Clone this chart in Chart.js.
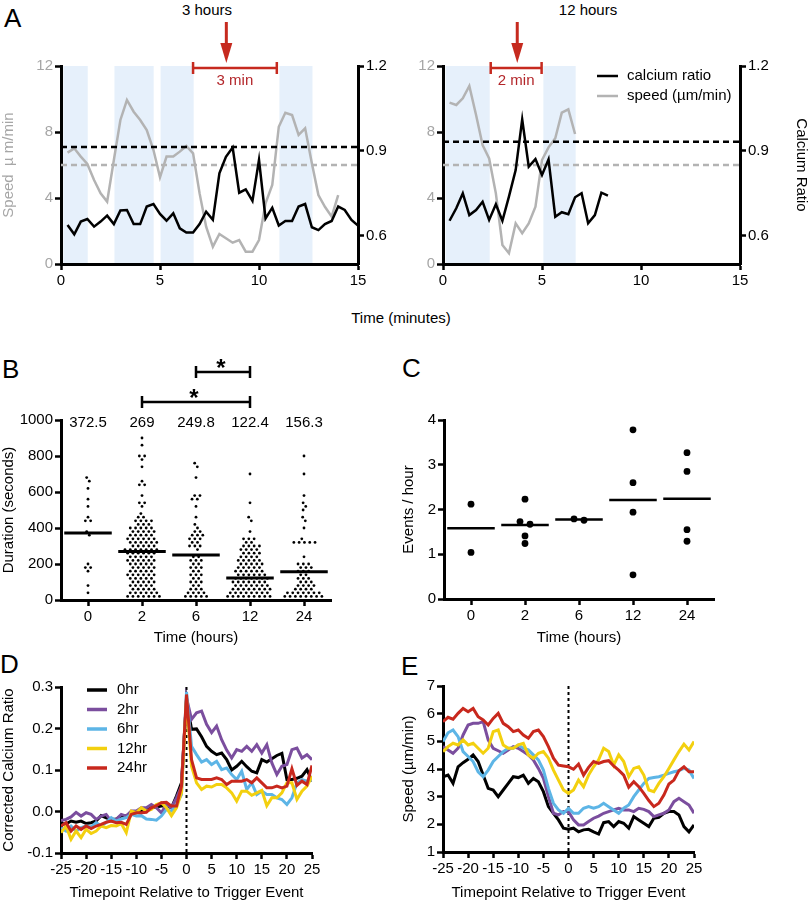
<!DOCTYPE html>
<html>
<head>
<meta charset="utf-8">
<script src="https://cdn.jsdelivr.net/npm/chart.js@4.4.1/dist/chart.umd.min.js"></script>
<style>
  body { margin: 0; background: #fff; width: 810px; height: 902px; position: relative; overflow: hidden;
         font-family: 'Liberation Sans', Arial, sans-serif; }
  canvas { position: absolute; }
  .txt { position: absolute; line-height: 1; white-space: nowrap; color: #000; font-size: 15px; }
  .mid { transform: translateX(-50%); }
  .letter { font-size: 26px; }
</style>
</head>
<body>
<div class="txt letter" style="left:4px;top:5px">A</div>
<div class="txt letter" style="left:2px;top:356px">B</div>
<div class="txt letter" style="left:402px;top:355px">C</div>
<div class="txt letter" style="left:0px;top:651px">D</div>
<div class="txt letter" style="left:401px;top:653px">E</div>
<div class="txt mid" style="left:207px;top:2px">3 hours</div>
<div class="txt mid" style="left:588px;top:2px">12 hours</div>
<div class="txt mid" style="left:401px;top:310px">Time (minutes)</div>

<script>
// ---------- Panel A: single-cell traces ----------
const timeMin = [0.33, 0.67, 1.00, 1.33, 1.67, 2.00, 2.33, 2.67, 3.00, 3.33, 3.67, 4.00, 4.33, 4.67, 5.00,
  5.33, 5.67, 6.00, 6.33, 6.67, 7.00, 7.33, 7.67, 8.00, 8.33, 8.67, 9.00, 9.33, 9.67, 10.00,
  10.33, 10.67, 11.00, 11.33, 11.67, 12.00, 12.33, 12.67, 13.00, 13.33, 13.67, 14.00, 14.33, 14.67, 15.00];
const ca3h = [0.638, 0.605, 0.650, 0.659, 0.632, 0.650, 0.671, 0.641, 0.689, 0.691, 0.641, 0.641, 0.703, 0.712, 0.677,
  0.653, 0.679, 0.626, 0.611, 0.611, 0.641, 0.685, 0.656, 0.821, 0.879, 0.912, 0.752, 0.764, 0.723, 0.868,
  0.661, 0.699, 0.636, 0.652, 0.652, 0.703, 0.712, 0.630, 0.620, 0.641, 0.652, 0.703, 0.691, 0.656, 0.636];
const speed3h = [6.75, 7.01, 6.51, 6.06, 5.09, 4.28, 3.78, 6.30, 8.73, 9.94, 9.23, 8.73, 8.12, 6.91, 5.25,
  6.51, 6.51, 6.81, 7.15, 6.71, 4.28, 2.26, 1.05, 1.82, 1.56, 1.29, 1.45, 0.75, 0.75, 1.45,
  3.68, 4.79, 8.32, 9.17, 9.03, 7.82, 8.22, 6.10, 4.18, 3.47, 2.87, 4.18];
const ca12h = [0.653, 0.697, 0.750, 0.673, 0.691, 0.720, 0.656, 0.711, 0.653, 0.738, 0.832, 1.011, 0.844,
  0.871, 0.815, 0.870, 0.667, 0.683, 0.676, 0.736, 0.750, 0.644, 0.673, 0.752, 0.742];
const speed12h = [9.78, 9.64, 10.04, 10.79, 9.03, 7.21, 6.40, 4.28, 1.15, 0.65, 2.46, 1.86, 2.46, 3.47, 6.30,
  7.07, 7.62, 9.17, 9.37, 7.88];
const caThreshold = [0.914, 0.932];
const speedThreshold = [6.0, 6.0];
const restPeriods3h = [[0.12, 1.35], [2.7, 4.68], [5.03, 6.7], [11.03, 12.7]];
const restPeriods12h = [[0.13, 2.36], [5.07, 6.7]];
const triggerMin = [8.35, 3.75];
const windowMin = [[6.67, 10.9], [2.41, 4.98]];
const windowLabels = ['3 min', '2 min'];
const legendA = ['calcium ratio', 'speed (\u00b5m/min)'];

// ---------- Panel B: event durations, [seconds, count] ----------
const hourLabels = ['0', '2', '6', '12', '24'];
const dur0h = [[680,1],[660,1],[620,1],[560,1],[520,1],[460,1],[440,2],[380,1],[360,1],[200,1],[180,2],[160,1],[80,1],[40,1]];
const dur2h = [[900,1],[860,1],[800,2],[780,1],[740,1],[660,1],[640,2],[580,1],[540,2],[520,1],[480,1],[460,2],
  [440,4],[420,3],[400,5],[380,5],[360,5],[340,6],[320,6],[300,5],[280,7],[260,6],[240,5],[220,6],[200,5],
  [180,5],[160,5],[140,6],[120,5],[100,5],[80,5],[60,5],[40,6],[20,7]];
const dur6h = [[760,1],[740,1],[680,1],[580,2],[560,2],[520,1],[460,1],[420,1],[400,1],[380,2],[360,3],[340,3],
  [320,2],[300,3],[280,1],[240,2],[220,3],[200,2],[180,3],[160,2],[140,3],[120,2],[100,3],[80,2],[60,3],[40,4],[20,5]];
const dur12h = [[700,1],[540,1],[460,1],[440,1],[380,1],[340,3],[320,2],[300,4],[280,4],[260,4],[240,4],[220,5],
  [200,5],[180,5],[160,6],[140,6],[120,7],[100,7],[80,7],[60,8],[40,8],[20,9]];
const dur24h = [[800,1],[700,1],[580,1],[540,1],[520,1],[500,1],[460,1],[440,1],[400,1],[340,1],[320,5],[240,1],
  [200,3],[180,3],[160,3],[140,2],[120,3],[100,3],[80,4],[60,4],[40,7],[20,8]];
const meanDuration = [372.5, 269, 249.8, 122.4, 156.3];
const sigPairs = [[1, 3], [2, 3]];

// ---------- Panel C: events per hour ----------
const events0h = [2.12, 1.04];
const events2h = [2.23, 1.73, 1.67, 1.41, 1.24];
const events6h = [1.79, 1.76];
const events12h = [3.78, 2.60, 1.94, 0.54];
const events24h = [3.27, 2.85, 1.55, 1.29];

// ---------- Panels D, E: averages around trigger ----------
const relTime = [-25,-24,-23,-22,-21,-20,-19,-18,-17,-16,-15,-14,-13,-12,-11,-10,-9,-8,-7,-6,-5,-4,-3,-2,-1,
  0,1,2,3,4,5,6,7,8,9,10,11,12,13,14,15,16,17,18,19,20,21,22,23,24,25];
const groupLabels = ['0hr', '2hr', '6hr', '12hr', '24hr'];
const groupColors = ['#000000', '#7b4e9e', '#5db5e6', '#f3d00f', '#c8281d'];
const ca0hr = [-0.029,-0.030,-0.023,-0.026,-0.023,-0.029,-0.027,-0.023,-0.010,-0.015,-0.019,-0.018,-0.011,-0.010,-0.005,
  -0.003,0.001,0.003,0.009,0.011,0.013,0.014,0.009,0.037,0.069, 0.270,
  0.198,0.199,0.180,0.157,0.145,0.137,0.141,0.125,0.100,0.109,0.121,0.108,0.097,0.093,0.125,0.119,0.127,0.135,0.140,
  0.077,0.077,0.080,0.085,0.101,0.073];
const ca2hr = [-0.022,-0.019,-0.013,-0.002,-0.011,-0.003,-0.007,-0.019,-0.011,-0.007,-0.023,-0.019,-0.007,-0.011,0.001,
  0.001,0.009,0.009,0.017,0.009,-0.003,0.017,0.009,0.033,0.061, 0.274,
  0.222,0.238,0.242,0.210,0.190,0.206,0.173,0.148,0.129,0.149,0.145,0.157,0.145,0.161,0.141,0.161,0.117,0.089,0.109,
  0.113,0.149,0.153,0.129,0.137,0.125];
const ca6hr = [-0.039,-0.047,-0.035,-0.047,-0.039,-0.035,-0.037,-0.027,-0.035,-0.027,-0.015,-0.023,-0.018,-0.015,-0.007,
  -0.011,-0.010,-0.018,-0.019,-0.021,-0.011,0.005,0.001,0.017,0.041, 0.288,
  0.157,0.137,0.119,0.125,0.113,0.121,0.101,0.105,0.089,0.077,0.097,0.053,0.069,0.041,0.049,0.041,0.041,0.033,0.029,
  0.017,0.033,0.069,0.077,0.073,0.077];
const ca12hr = [-0.051,-0.035,-0.067,-0.047,-0.063,-0.043,-0.053,-0.047,-0.035,-0.039,-0.034,-0.035,-0.029,-0.051,0.001,
  -0.003,0.009,0.001,0.005,0.017,0.021,0.009,-0.010,0.009,0.045, 0.270,
  0.109,0.069,0.053,0.061,0.059,0.065,0.065,0.057,0.045,0.025,0.049,0.049,0.039,0.045,0.051,0.014,0.033,0.033,0.045,
  0.069,0.069,0.029,0.049,0.061,0.085];
const ca24hr = [-0.035,-0.027,-0.047,-0.035,-0.043,-0.035,-0.041,-0.035,-0.031,-0.026,-0.023,-0.027,-0.026,-0.031,-0.007,
  -0.003,-0.003,-0.002,0.009,0.014,0.021,0.022,0.013,0.013,0.061, 0.282,
  0.125,0.081,0.077,0.077,0.077,0.081,0.077,0.065,0.073,0.073,0.073,0.077,0.069,0.081,0.069,0.057,0.057,0.061,0.057,
  0.061,0.103,0.063,0.073,0.065,0.111];
const sp0hr = [3.72,3.78,3.48,4.08,4.23,4.35,4.51,4.27,3.78,3.30,3.24,3.00,3.24,3.48,3.72,3.69,3.78,3.48,3.66,3.54,
  3.18,2.64,2.40,2.16,1.86, 1.82,
  1.86,1.73,1.80,1.82,1.73,1.65,2.06,2.10,1.92,2.10,2.04,1.86,2.28,2.16,2.04,1.92,2.22,2.25,2.40,2.46,2.46,2.34,1.92,1.73,1.98];
const sp2hr = [4.81,4.69,4.57,4.75,5.23,5.59,5.65,5.65,5.71,5.05,4.75,4.66,4.57,4.69,4.81,4.75,4.63,4.51,4.33,4.02,
  3.66,3.00,2.40,2.34,2.46, 2.46,
  2.16,1.98,1.98,2.10,2.22,2.30,2.40,2.46,2.52,2.58,2.52,2.52,2.46,2.58,2.54,2.46,2.28,2.34,2.40,2.52,2.82,2.94,2.82,2.70,2.40];
const sp6hr = [4.99,5.31,5.41,5.17,4.63,4.45,4.27,3.90,3.72,3.96,4.27,4.45,4.63,4.75,4.75,4.87,4.75,4.69,4.51,4.33,
  3.96,3.30,2.76,2.52,2.40, 2.58,
  2.40,2.40,2.58,2.64,2.58,2.64,2.76,2.64,2.52,2.40,2.58,2.70,3.00,3.24,3.48,3.66,3.69,3.72,3.78,3.84,3.90,3.94,4.02,3.96,3.66];
const sp12hr = [4.63,4.81,4.93,4.87,5.05,4.87,4.93,4.75,4.57,4.75,5.35,5.41,4.87,4.75,4.75,4.87,4.93,4.51,4.39,4.57,
  4.63,4.39,3.96,3.60,3.24, 3.12,
  3.24,3.60,3.36,3.78,4.08,4.33,4.75,4.63,4.14,4.51,4.27,3.72,4.02,4.08,3.78,3.24,3.18,3.48,3.72,4.02,4.33,4.63,4.90,4.69,4.99];
const sp24hr = [5.71,5.87,5.80,6.01,6.19,6.07,6.19,5.89,5.77,5.59,5.83,6.01,5.65,5.53,5.35,5.41,5.23,5.11,5.35,5.41,
  5.17,4.81,4.39,4.14,4.11, 4.08,
  3.99,4.18,3.78,4.06,4.27,4.20,4.27,4.30,4.11,3.96,3.78,3.34,3.54,3.36,3.12,2.86,2.64,2.76,3.06,3.46,3.60,3.94,4.08,3.90,3.90];

// ---------------------------------------------------------------
const FONT = "'Liberation Sans', Arial, sans-serif";
Chart.defaults.font.family = FONT;
Chart.defaults.font.size = 15;
Chart.defaults.color = '#000';
const GRAY = '#b3b3b3';
const RED = '#c62a1f';

function linScale(pos, size, o) {
  const horiz = pos === 'bottom';
  const cfg = {
    type: 'linear', position: pos, min: o.min, max: o.max,
    border: { display: true, color: '#000', width: 3 },
    grid: { display: true, drawOnChartArea: false, drawTicks: true, tickLength: 6, tickColor: '#000', tickWidth: 2.5 },
    ticks: { color: o.tickColor || '#000', font: { size: 15 }, padding: 2, autoSkip: false, maxRotation: 0,
      callback: o.format || (v => String(v)) },
    title: o.title
      ? { display: true, text: o.title, color: o.titleColor || '#000', font: { size: 15 }, padding: 0 }
      : { display: false },
    afterFit: s => { if (horiz) s.height = size; else s.width = size; }
  };
  if (o.step) cfg.ticks.stepSize = o.step;
  if (o.tickValues) cfg.afterBuildTicks = s => { s.ticks = o.tickValues.map(v => ({ value: v })); };
  return cfg;
}

function makeChart(box, scales, datasets, plugins) {
  const cv = document.createElement('canvas');
  cv.width = box.w; cv.height = box.h;
  cv.style.left = box.x + 'px'; cv.style.top = box.y + 'px';
  cv.style.width = box.w + 'px'; cv.style.height = box.h + 'px';
  document.body.appendChild(cv);
  return new Chart(cv, {
    type: 'line',
    data: { datasets },
    options: {
      responsive: false, animation: false, events: [],
      layout: { autoPadding: false, padding: box.pad },
      plugins: { legend: { display: false }, tooltip: { enabled: false } },
      scales
    },
    plugins: plugins || []
  });
}

const xy = (xs, ys) => ys.map((v, i) => ({ x: xs[i], y: v }));
const line = (data, color, extra) => Object.assign({ data, borderColor: color, borderWidth: 2.5, pointRadius: 0, tension: 0, fill: false }, extra);

// shaded rest periods
const shadePlugin = spans => ({
  id: 'shade',
  beforeDraw(chart) {
    const { ctx, chartArea: a, scales: { x } } = chart;
    ctx.save();
    ctx.fillStyle = '#e6f0fb';
    spans.forEach(([s, e]) => {
      const x1 = x.getPixelForValue(s), x2 = x.getPixelForValue(e);
      ctx.fillRect(x1, a.top, x2 - x1, a.bottom - a.top);
    });
    ctx.restore();
  }
});

// red arrow + bracket above the trigger
const triggerPlugin = (t, win, label) => ({
  id: 'trigger',
  afterDraw(chart) {
    const { ctx, chartArea: a, scales: { x } } = chart;
    const ax = x.getPixelForValue(t);
    ctx.save();
    ctx.strokeStyle = RED; ctx.fillStyle = RED; ctx.lineWidth = 3;
    ctx.beginPath(); ctx.moveTo(ax, a.top - 44); ctx.lineTo(ax, a.top - 20); ctx.stroke();
    ctx.beginPath(); ctx.moveTo(ax - 6, a.top - 23); ctx.lineTo(ax + 6, a.top - 23); ctx.lineTo(ax, a.top - 3); ctx.closePath(); ctx.fill();
    const x1 = x.getPixelForValue(win[0]), x2 = x.getPixelForValue(win[1]), by = a.top + 2;
    ctx.lineWidth = 2.5;
    ctx.beginPath();
    ctx.moveTo(x1, by); ctx.lineTo(x2, by);
    ctx.moveTo(x1, by - 6); ctx.lineTo(x1, by + 6);
    ctx.moveTo(x2, by - 6); ctx.lineTo(x2, by + 6);
    ctx.stroke();
    ctx.fillStyle = '#b3262a'; ctx.font = '15px ' + FONT;
    ctx.textAlign = 'center'; ctx.textBaseline = 'middle';
    ctx.fillText(label, (x1 + x2) / 2, a.top + 15);
    ctx.restore();
  }
});

function panelA(box, ca, speed, k, shades, withRightTitle, legend) {
  const scales = {
    x: linScale('bottom', 36, { min: 0, max: 15, step: 5 }),
    ySpeed: linScale('left', box.leftW, { min: 0, max: 12, step: 4, tickColor: '#a6a6a6',
      title: box.speedTitle, titleColor: '#a6a6a6' }),
    yCa: linScale('right', box.rightW, { min: 0.5, max: 1.2, tickValues: [0.6, 0.9, 1.2],
      format: v => v.toFixed(1), title: withRightTitle ? 'Calcium Ratio' : null })
  };
  const datasets = [
    line(xy(timeMin, ca), '#000', { yAxisID: 'yCa', order: 0 }),
    line([{ x: 0, y: caThreshold[k] }, { x: 15, y: caThreshold[k] }], '#000', { yAxisID: 'yCa', borderDash: [6, 4], order: 1 }),
    line([{ x: 0, y: speedThreshold[k] }, { x: 15, y: speedThreshold[k] }], GRAY, { yAxisID: 'ySpeed', borderDash: [6, 4], order: 2 }),
    line(xy(timeMin, speed), GRAY, { yAxisID: 'ySpeed', order: 3 })
  ];
  const plugins = [shadePlugin(shades), triggerPlugin(triggerMin[k], windowMin[k], windowLabels[k])];
  if (legend) plugins.push({
    id: 'legA',
    afterDraw(chart) {
      const { ctx, chartArea: a } = chart;
      ctx.save();
      ctx.font = '15px ' + FONT; ctx.textBaseline = 'middle'; ctx.lineWidth = 2.5;
      [['#000', legend[0]], [GRAY, legend[1]]].forEach(([c, t], i) => {
        const y = a.top + 10 + i * 20;
        ctx.strokeStyle = c;
        ctx.beginPath(); ctx.moveTo(a.left + 154, y); ctx.lineTo(a.left + 175, y); ctx.stroke();
        ctx.fillStyle = '#000'; ctx.fillText(t, a.left + 184, y);
      });
      ctx.restore();
    }
  });
  makeChart(box, scales, datasets, plugins);
}

panelA({ x: 0, y: 0, w: 400, h: 300, pad: { top: 66, left: 0, right: 0, bottom: 0 }, leftW: 61, rightW: 42,
  speedTitle: 'Speed  \u00b5 m/min' }, ca3h, speed3h, 0, restPeriods3h, false, null);
panelA({ x: 400, y: 0, w: 410, h: 300, pad: { top: 66, left: 0, right: 0, bottom: 0 }, leftW: 43, rightW: 70,
  speedTitle: null }, ca12h, speed12h, 1, restPeriods12h, true, legendA);

// ---------- beeswarm offsets (computed from the values) ----------
function swarm(values, yPx, xPx, d, step) {
  const placed = [];
  values.forEach(v => {
    const y = v * yPx;
    for (let k = 0; ; k++) {
      const dx = (k % 2 ? 1 : -1) * Math.ceil(k / 2) * step;
      if (placed.every(p => (p.x - dx) ** 2 + (p.y - y) ** 2 >= d * d - 1e-6)) { placed.push({ x: dx, y }); break; }
    }
  });
  // centre each cluster of touching points
  let start = 0;
  for (let i = 1; i <= placed.length; i++) {
    if (i === placed.length || Math.abs(placed[i].y - placed[i - 1].y) >= d) {
      const c = placed.slice(start, i);
      const m = c.reduce((s, p) => s + p.x, 0) / c.length;
      c.forEach(p => { p.x -= m; });
      start = i;
    }
  }
  return placed.map(p => p.x / xPx);
}

function dotsDataset(groupIdx, values, yPx, d, step, r) {
  const sorted = values.slice().sort((a, b) => b - a);
  const offs = swarm(sorted, yPx, 54, d, step);
  return { data: sorted.map((v, i) => ({ x: groupIdx + offs[i], y: v })), showLine: false,
    pointRadius: r, pointBackgroundColor: '#000', pointBorderWidth: 0, borderColor: '#000', order: 1 };
}
const meanLine = (i, m, w) => line([{ x: i - 0.44, y: m }, { x: i + 0.44, y: m }], '#000', { borderWidth: w, order: 0 });

// ---------- Panel B ----------
const durGroups = [dur0h, dur2h, dur6h, dur12h, dur24h].map(g => g.flatMap(([v, n]) => Array(n).fill(v)));
const bDatasets = [];
durGroups.forEach((vals, i) => {
  bDatasets.push(dotsDataset(i, vals, 0.18, 4.4, 2.65, 1.4));
  bDatasets.push(meanLine(i, meanDuration[i], 3));
});
makeChart({ x: 0, y: 330, w: 400, h: 317, pad: { top: 90, left: 0, right: 69, bottom: 0 } }, {
  x: linScale('bottom', 47, { min: -0.5, max: 4.5, tickValues: hourLabels.map((_, i) => i),
    format: v => hourLabels[v], title: 'Time (hours)' }),
  y: linScale('left', 61, { min: 0, max: 1000, step: 200, title: 'Duration (seconds)' })
}, bDatasets, [{
  id: 'bNotes',
  afterDraw(chart) {
    const { ctx, chartArea: a, scales: { x } } = chart;
    ctx.save();
    ctx.fillStyle = '#000'; ctx.strokeStyle = '#000';
    ctx.font = '15px ' + FONT; ctx.textAlign = 'center'; ctx.textBaseline = 'middle';
    meanDuration.forEach((m, i) => ctx.fillText(String(m), x.getPixelForValue(i), a.top + 3));
    ctx.lineWidth = 2.5;
    ctx.font = 'bold 24px ' + FONT; ctx.textBaseline = 'alphabetic';
    sigPairs.forEach(([i, j], k) => {
      const y = a.top - 18 - 30 * k;
      const x1 = x.getPixelForValue(i), x2 = x.getPixelForValue(j);
      ctx.beginPath();
      ctx.moveTo(x1, y); ctx.lineTo(x2, y);
      ctx.moveTo(x1, y - 6); ctx.lineTo(x1, y + 6);
      ctx.moveTo(x2, y - 6); ctx.lineTo(x2, y + 6);
      ctx.stroke();
      ctx.fillText('*', (x1 + x2) / 2 - 2, y + 4);
    });
    ctx.restore();
  }
}]);

// ---------- Panel C ----------
const eventGroups = [events0h, events2h, events6h, events12h, events24h];
const cDatasets = [];
eventGroups.forEach((vals, i) => {
  cDatasets.push(dotsDataset(i, vals, 44.75, 7.5, 5, 3.4));
  cDatasets.push(meanLine(i, vals.reduce((s, v) => s + v, 0) / vals.length, 2.5));
});
makeChart({ x: 400, y: 330, w: 410, h: 317, pad: { top: 90, left: 0, right: 96, bottom: 0 } }, {
  x: linScale('bottom', 48, { min: -0.5, max: 4.5, tickValues: hourLabels.map((_, i) => i),
    format: v => hourLabels[v], title: 'Time (hours)' }),
  y: linScale('left', 44, { min: 0, max: 4, step: 1, title: 'Events / hour' })
}, cDatasets);

// ---------- Panels D and E ----------
const zeroLine = {
  id: 'zeroLine',
  beforeDatasetsDraw(chart) {
    const { ctx, chartArea: a, scales: { x } } = chart;
    const px = x.getPixelForValue(0);
    ctx.save();
    ctx.strokeStyle = '#000'; ctx.lineWidth = 2; ctx.setLineDash([3, 3]);
    ctx.beginPath(); ctx.moveTo(px, a.top); ctx.lineTo(px, a.bottom); ctx.stroke();
    ctx.restore();
  }
};
const drawOrder = [4, 3, 2, 1, 0];
const groupDatasets = series => series.map((s, i) => line(xy(relTime, s), groupColors[i], { borderWidth: 3, order: drawOrder[i] }));

makeChart({ x: 0, y: 650, w: 400, h: 252, pad: { top: 37, left: 0, right: 88, bottom: 0 } }, {
  x: linScale('bottom', 49, { min: -25, max: 25, step: 5, title: 'Timepoint Relative to Trigger Event' }),
  y: linScale('left', 61, { min: -0.1, max: 0.3, tickValues: [-0.1, 0, 0.1, 0.2, 0.3],
    format: v => v.toFixed(1), title: 'Corrected Calcium Ratio' })
}, groupDatasets([ca0hr, ca2hr, ca6hr, ca12hr, ca24hr]), [zeroLine, {
  id: 'legD',
  afterDraw(chart) {
    const { ctx, chartArea: a } = chart;
    ctx.save();
    ctx.font = '15px ' + FONT; ctx.textBaseline = 'middle'; ctx.lineWidth = 3.5;
    groupLabels.forEach((t, i) => {
      const y = a.top + 3 + i * 19.5;
      ctx.strokeStyle = groupColors[i];
      ctx.beginPath(); ctx.moveTo(a.left + 26, y); ctx.lineTo(a.left + 46, y); ctx.stroke();
      ctx.fillStyle = '#000'; ctx.fillText(t, a.left + 56, y);
    });
    ctx.restore();
  }
}]);

makeChart({ x: 400, y: 650, w: 410, h: 252, pad: { top: 36, left: 0, right: 116, bottom: 0 } }, {
  x: linScale('bottom', 50, { min: -25, max: 25, step: 5, title: 'Timepoint Relative to Trigger Event' }),
  y: linScale('left', 43, { min: 1, max: 7, step: 1, title: 'Speed (\u00b5m/min)' })
}, groupDatasets([sp0hr, sp2hr, sp6hr, sp12hr, sp24hr]), [zeroLine]);
</script>
</body>
</html>
